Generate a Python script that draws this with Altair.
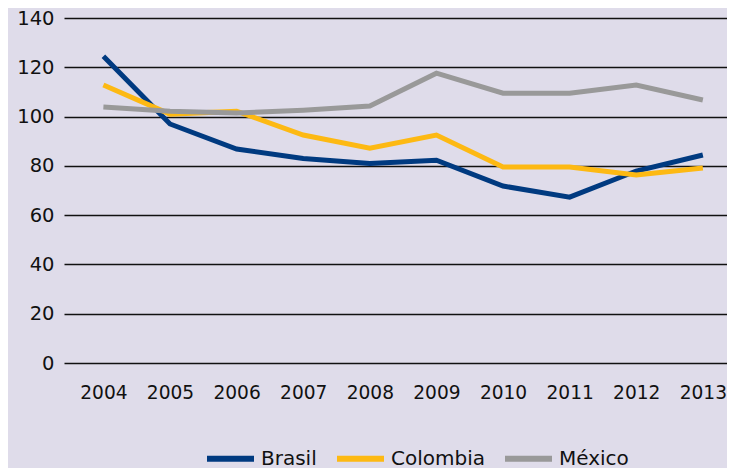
import altair as alt
import pandas as pd

years = ["2004", "2005", "2006", "2007", "2008", "2009", "2010", "2011", "2012", "2013"]
brasil = [124.5, 97.0, 86.8, 83.0, 81.0, 82.3, 71.8, 67.3, 77.9, 84.4]
colombia = [112.8, 101.0, 102.2, 92.5, 87.2, 92.5, 79.5, 79.5, 76.3, 79.1]
mexico = [103.9, 102.2, 101.4, 102.6, 104.3, 117.6, 109.5, 109.5, 112.8, 106.7]
series = ["Brasil", "Colombia", "México"]
colors = ["#003A80", "#FDB913", "#999999"]

rows = []
for name, vals in zip(series, [brasil, colombia, mexico]):
    for y, v in zip(years, vals):
        rows.append({"year": y, "value": v, "pais": name})
df = pd.DataFrame(rows)

FONT = "DejaVu Sans"

chart = alt.Chart(df).mark_line(strokeWidth=5).encode(
    x=alt.X("year:O", sort=years, title=None,
            scale=alt.Scale(type="point", padding=0.477, align=0.62),
            axis=alt.Axis(labelAngle=0, ticks=False, domain=False, grid=False,
                          labelPadding=20, labelFontSize=18.6, labelColor="#111111",
                          labelFont=FONT)),
    y=alt.Y("value:Q", title=None,
            scale=alt.Scale(domain=[0, 140]),
            axis=alt.Axis(values=[0, 20, 40, 60, 80, 100, 120, 140], ticks=False,
                          domain=False, grid=True, gridColor="#111111", gridWidth=1.5,
                          labelPadding=10, labelFontSize=19.5, labelColor="#111111",
                          labelFont=FONT)),
    color=alt.Color("pais:N", sort=series,
                    scale=alt.Scale(domain=series, range=colors),
                    legend=alt.Legend(title=None, orient="none", direction="horizontal",
                                      legendX=140, legendY=414,
                                      symbolType="stroke", symbolSize=2209,
                                      symbolStrokeWidth=6, labelFontSize=20,
                                      labelFont=FONT, labelColor="#111111",
                                      labelOffset=4, columnPadding=8)),
).properties(
    width=663, height=345, background="#DFDCEA",
    autosize=alt.AutoSizeParams(type="none"),
    padding={"left": 56, "top": 10, "right": 0, "bottom": 105}
).configure_view(stroke=None)

chart.save("out.html", embed_options={"renderer": "svg", "actions": False})
